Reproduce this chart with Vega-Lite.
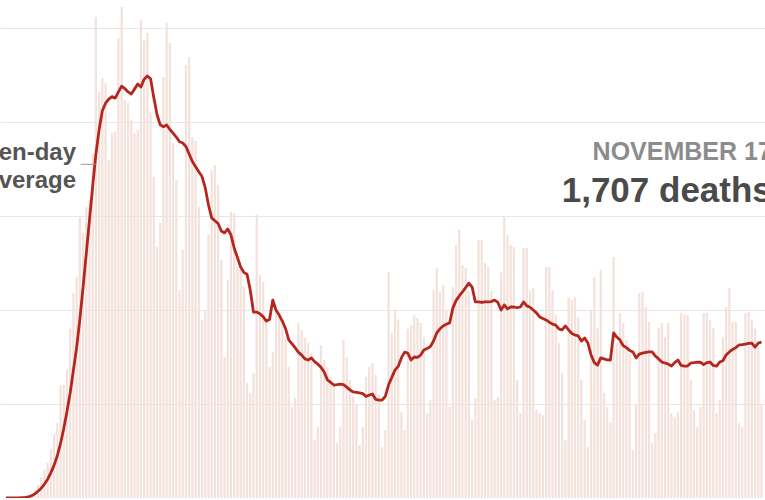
{
  "$schema": "https://vega.github.io/schema/vega-lite/v6.json",
  "width": 765,
  "height": 498,
  "padding": 0,
  "autosize": "none",
  "background": "white",
  "config": {"view": {"stroke": null}, "font": "Liberation Sans"},
  "datasets": {
    "daily": [
      {"date":"2020-03-03","deaths":0,"avg":0},{"date":"2020-03-04","deaths":0,"avg":0},{"date":"2020-03-05","deaths":1,"avg":0},{"date":"2020-03-06","deaths":1,"avg":1},{"date":"2020-03-07","deaths":2,"avg":1},{"date":"2020-03-08","deaths":3,"avg":2},{"date":"2020-03-09","deaths":5,"avg":3},{"date":"2020-03-10","deaths":10,"avg":6},{"date":"2020-03-11","deaths":20,"avg":12},{"date":"2020-03-12","deaths":40,"avg":22},
      {"date":"2020-03-13","deaths":70,"avg":36},{"date":"2020-03-14","deaths":110,"avg":52},{"date":"2020-03-15","deaths":150,"avg":74},{"date":"2020-03-16","deaths":186,"avg":100},{"date":"2020-03-17","deaths":260,"avg":135},{"date":"2020-03-18","deaths":340,"avg":175},{"date":"2020-03-19","deaths":399,"avg":225},{"date":"2020-03-20","deaths":600,"avg":290},{"date":"2020-03-21","deaths":601,"avg":370},{"date":"2020-03-22","deaths":681,"avg":460},
      {"date":"2020-03-23","deaths":900,"avg":560},{"date":"2020-03-24","deaths":1090,"avg":680},{"date":"2020-03-25","deaths":1175,"avg":800},{"date":"2020-03-26","deaths":1495,"avg":950},{"date":"2020-03-27","deaths":1410,"avg":1120},{"date":"2020-03-28","deaths":1548,"avg":1300},{"date":"2020-03-29","deaths":1585,"avg":1480},{"date":"2020-03-30","deaths":1830,"avg":1660},{"date":"2020-03-31","deaths":2558,"avg":1830},{"date":"2020-04-01","deaths":2160,"avg":1960},
      {"date":"2020-04-02","deaths":2234,"avg":2060},{"date":"2020-04-03","deaths":2206,"avg":2100},{"date":"2020-04-04","deaths":1798,"avg":2122},{"date":"2020-04-05","deaths":1941,"avg":2135},{"date":"2020-04-06","deaths":1950,"avg":2127},{"date":"2020-04-07","deaths":2447,"avg":2160},{"date":"2020-04-08","deaths":2612,"avg":2191},{"date":"2020-04-09","deaths":2117,"avg":2178},{"date":"2020-04-10","deaths":2101,"avg":2160},{"date":"2020-04-11","deaths":2011,"avg":2149},
      {"date":"2020-04-12","deaths":1941,"avg":2175},{"date":"2020-04-13","deaths":1957,"avg":2202},{"date":"2020-04-14","deaths":2542,"avg":2186},{"date":"2020-04-15","deaths":2436,"avg":2228},{"date":"2020-04-16","deaths":2473,"avg":2245},{"date":"2020-04-17","deaths":2050,"avg":2230},{"date":"2020-04-18","deaths":1707,"avg":2130},{"date":"2020-04-19","deaths":1335,"avg":2040},{"date":"2020-04-20","deaths":1463,"avg":1985},{"date":"2020-04-21","deaths":2239,"avg":1975},
      {"date":"2020-04-22","deaths":2527,"avg":1984},{"date":"2020-04-23","deaths":2420,"avg":1960},{"date":"2020-04-24","deaths":1888,"avg":1941},{"date":"2020-04-25","deaths":1691,"avg":1920},{"date":"2020-04-26","deaths":1106,"avg":1895},{"date":"2020-04-27","deaths":1319,"avg":1888},{"date":"2020-04-28","deaths":2303,"avg":1870},{"date":"2020-04-29","deaths":2346,"avg":1830},{"date":"2020-04-30","deaths":1920,"avg":1790},{"date":"2020-05-01","deaths":1900,"avg":1762},
      {"date":"2020-05-02","deaths":1548,"avg":1735},{"date":"2020-05-03","deaths":947,"avg":1710},{"date":"2020-05-04","deaths":1000,"avg":1650},{"date":"2020-05-05","deaths":1400,"avg":1560},{"date":"2020-05-06","deaths":1745,"avg":1490},{"date":"2020-05-07","deaths":1771,"avg":1475},{"date":"2020-05-08","deaths":1665,"avg":1460},{"date":"2020-05-09","deaths":1266,"avg":1420},{"date":"2020-05-10","deaths":750,"avg":1410},{"date":"2020-05-11","deaths":1160,"avg":1431},
      {"date":"2020-05-12","deaths":1521,"avg":1400},{"date":"2020-05-13","deaths":1516,"avg":1330},{"date":"2020-05-14","deaths":1229,"avg":1280},{"date":"2020-05-15","deaths":1213,"avg":1229},{"date":"2020-05-16","deaths":1122,"avg":1200},{"date":"2020-05-17","deaths":612,"avg":1190},{"date":"2020-05-18","deaths":558,"avg":1106},{"date":"2020-05-19","deaths":665,"avg":989},{"date":"2020-05-20","deaths":1505,"avg":989},{"date":"2020-05-21","deaths":1186,"avg":980},
      {"date":"2020-05-22","deaths":1149,"avg":965},{"date":"2020-05-23","deaths":947,"avg":941},{"date":"2020-05-24","deaths":697,"avg":950},{"date":"2020-05-25","deaths":777,"avg":1053},{"date":"2020-05-26","deaths":1000,"avg":1000},{"date":"2020-05-27","deaths":984,"avg":973},{"date":"2020-05-28","deaths":950,"avg":940},{"date":"2020-05-29","deaths":850,"avg":900},{"date":"2020-05-30","deaths":697,"avg":840},{"date":"2020-05-31","deaths":484,"avg":820},
      {"date":"2020-06-01","deaths":532,"avg":798},{"date":"2020-06-02","deaths":931,"avg":775},{"date":"2020-06-03","deaths":894,"avg":760},{"date":"2020-06-04","deaths":851,"avg":740},{"date":"2020-06-05","deaths":824,"avg":734},{"date":"2020-06-06","deaths":771,"avg":745},{"date":"2020-06-07","deaths":309,"avg":725},{"date":"2020-06-08","deaths":378,"avg":712},{"date":"2020-06-09","deaths":814,"avg":695},{"date":"2020-06-10","deaths":734,"avg":670},
      {"date":"2020-06-11","deaths":697,"avg":628},{"date":"2020-06-12","deaths":644,"avg":615},{"date":"2020-06-13","deaths":600,"avg":601},{"date":"2020-06-14","deaths":293,"avg":603},{"date":"2020-06-15","deaths":378,"avg":606},{"date":"2020-06-16","deaths":840,"avg":603},{"date":"2020-06-17","deaths":750,"avg":590},{"date":"2020-06-18","deaths":628,"avg":575},{"date":"2020-06-19","deaths":537,"avg":564},{"date":"2020-06-20","deaths":495,"avg":562},
      {"date":"2020-06-21","deaths":282,"avg":559},{"date":"2020-06-22","deaths":378,"avg":555},{"date":"2020-06-23","deaths":644,"avg":540},{"date":"2020-06-24","deaths":697,"avg":548},{"date":"2020-06-25","deaths":718,"avg":553},{"date":"2020-06-26","deaths":654,"avg":525},{"date":"2020-06-27","deaths":550,"avg":521},{"date":"2020-06-28","deaths":271,"avg":521},{"date":"2020-06-29","deaths":362,"avg":540},{"date":"2020-06-30","deaths":1202,"avg":601},
      {"date":"2020-07-01","deaths":878,"avg":640},{"date":"2020-07-02","deaths":1000,"avg":680},{"date":"2020-07-03","deaths":950,"avg":700},{"date":"2020-07-04","deaths":457,"avg":745},{"date":"2020-07-05","deaths":362,"avg":776},{"date":"2020-07-06","deaths":900,"avg":771},{"date":"2020-07-07","deaths":920,"avg":734},{"date":"2020-07-08","deaths":973,"avg":750},{"date":"2020-07-09","deaths":957,"avg":748},{"date":"2020-07-10","deaths":931,"avg":760},
      {"date":"2020-07-11","deaths":856,"avg":787},{"date":"2020-07-12","deaths":452,"avg":795},{"date":"2020-07-13","deaths":521,"avg":805},{"date":"2020-07-14","deaths":1106,"avg":835},{"date":"2020-07-15","deaths":1223,"avg":878},{"date":"2020-07-16","deaths":1096,"avg":900},{"date":"2020-07-17","deaths":1133,"avg":915},{"date":"2020-07-18","deaths":1000,"avg":925},{"date":"2020-07-19","deaths":484,"avg":931},{"date":"2020-07-20","deaths":1122,"avg":1010},
      {"date":"2020-07-21","deaths":1346,"avg":1050},{"date":"2020-07-22","deaths":1425,"avg":1075},{"date":"2020-07-23","deaths":1239,"avg":1096},{"date":"2020-07-24","deaths":1223,"avg":1120},{"date":"2020-07-25","deaths":1100,"avg":1143},{"date":"2020-07-26","deaths":415,"avg":1122},{"date":"2020-07-27","deaths":532,"avg":1043},{"date":"2020-07-28","deaths":1372,"avg":1043},{"date":"2020-07-29","deaths":1372,"avg":1040},{"date":"2020-07-30","deaths":1250,"avg":1043},
      {"date":"2020-07-31","deaths":1229,"avg":1043},{"date":"2020-08-01","deaths":1100,"avg":1045},{"date":"2020-08-02","deaths":521,"avg":1053},{"date":"2020-08-03","deaths":537,"avg":1040},{"date":"2020-08-04","deaths":1200,"avg":1000},{"date":"2020-08-05","deaths":1495,"avg":1027},{"date":"2020-08-06","deaths":1400,"avg":1006},{"date":"2020-08-07","deaths":1346,"avg":1016},{"date":"2020-08-08","deaths":1335,"avg":1016},{"date":"2020-08-09","deaths":628,"avg":1012},
      {"date":"2020-08-10","deaths":452,"avg":1016},{"date":"2020-08-11","deaths":1330,"avg":1043},{"date":"2020-08-12","deaths":1330,"avg":1022},{"date":"2020-08-13","deaths":1106,"avg":1015},{"date":"2020-08-14","deaths":1117,"avg":1000},{"date":"2020-08-15","deaths":468,"avg":985},{"date":"2020-08-16","deaths":452,"avg":963},{"date":"2020-08-17","deaths":441,"avg":955},{"date":"2020-08-18","deaths":1229,"avg":947},{"date":"2020-08-19","deaths":1229,"avg":935},
      {"date":"2020-08-20","deaths":1106,"avg":925},{"date":"2020-08-21","deaths":973,"avg":920},{"date":"2020-08-22","deaths":824,"avg":900},{"date":"2020-08-23","deaths":665,"avg":894},{"date":"2020-08-24","deaths":309,"avg":915},{"date":"2020-08-25","deaths":1064,"avg":894},{"date":"2020-08-26","deaths":1053,"avg":875},{"date":"2020-08-27","deaths":1069,"avg":867},{"date":"2020-08-28","deaths":963,"avg":862},{"date":"2020-08-29","deaths":628,"avg":835},
      {"date":"2020-08-30","deaths":415,"avg":851},{"date":"2020-08-31","deaths":271,"avg":824},{"date":"2020-09-01","deaths":1000,"avg":761},{"date":"2020-09-02","deaths":1176,"avg":720},{"date":"2020-09-03","deaths":904,"avg":707},{"date":"2020-09-04","deaths":1213,"avg":745},{"date":"2020-09-05","deaths":558,"avg":740},{"date":"2020-09-06","deaths":484,"avg":735},{"date":"2020-09-07","deaths":404,"avg":734},{"date":"2020-09-08","deaths":1282,"avg":878},
      {"date":"2020-09-09","deaths":824,"avg":856},{"date":"2020-09-10","deaths":984,"avg":840},{"date":"2020-09-11","deaths":931,"avg":810},{"date":"2020-09-12","deaths":840,"avg":800},{"date":"2020-09-13","deaths":771,"avg":785},{"date":"2020-09-14","deaths":255,"avg":777},{"date":"2020-09-15","deaths":500,"avg":745},{"date":"2020-09-16","deaths":1090,"avg":765},{"date":"2020-09-17","deaths":1096,"avg":771},{"date":"2020-09-18","deaths":1016,"avg":775},
      {"date":"2020-09-19","deaths":936,"avg":777},{"date":"2020-09-20","deaths":293,"avg":777},{"date":"2020-09-21","deaths":346,"avg":755},{"date":"2020-09-22","deaths":904,"avg":740},{"date":"2020-09-23","deaths":931,"avg":723},{"date":"2020-09-24","deaths":856,"avg":718},{"date":"2020-09-25","deaths":931,"avg":712},{"date":"2020-09-26","deaths":452,"avg":702},{"date":"2020-09-27","deaths":430,"avg":720},{"date":"2020-09-28","deaths":457,"avg":734},
      {"date":"2020-09-29","deaths":984,"avg":705},{"date":"2020-09-30","deaths":973,"avg":702},{"date":"2020-10-01","deaths":973,"avg":702},{"date":"2020-10-02","deaths":628,"avg":718},{"date":"2020-10-03","deaths":468,"avg":720},{"date":"2020-10-04","deaths":378,"avg":723},{"date":"2020-10-05","deaths":484,"avg":722},{"date":"2020-10-06","deaths":984,"avg":710},{"date":"2020-10-07","deaths":984,"avg":720},{"date":"2020-10-08","deaths":947,"avg":723},
      {"date":"2020-10-09","deaths":904,"avg":705},{"date":"2020-10-10","deaths":452,"avg":702},{"date":"2020-10-11","deaths":521,"avg":723},{"date":"2020-10-12","deaths":856,"avg":730},{"date":"2020-10-13","deaths":1016,"avg":761},{"date":"2020-10-14","deaths":1117,"avg":777},{"date":"2020-10-15","deaths":936,"avg":790},{"date":"2020-10-16","deaths":936,"avg":800},{"date":"2020-10-17","deaths":399,"avg":814},{"date":"2020-10-18","deaths":378,"avg":816},
      {"date":"2020-10-19","deaths":984,"avg":819},{"date":"2020-10-20","deaths":989,"avg":822},{"date":"2020-10-21","deaths":950,"avg":824},{"date":"2020-10-22","deaths":900,"avg":803},{"date":"2020-10-23","deaths":800,"avg":824},{"date":"2020-10-24","deaths":500,"avg":830}
    ]
  },
  "encoding": {
    "x": {
      "field": "date",
      "type": "temporal",
      "scale": {
        "domain": [
          {"year": 2020, "month": 3, "date": 2, "hours": 17, "minutes": 22, "utc": true},
          {"year": 2020, "month": 10, "date": 23, "hours": 12, "minutes": 45, "utc": true}
        ]
      },
      "axis": null
    }
  },
  "layer": [
    {
      "data": {"name": "daily"},
      "mark": {"type": "bar", "width": 2.2, "color": "#f3e1db"},
      "encoding": {
        "y": {
          "field": "deaths",
          "type": "quantitative",
          "scale": {"domain": [0, 2649], "nice": false, "zero": true},
          "axis": {
            "values": [0, 500, 1000, 1500, 2000, 2500],
            "labels": false,
            "ticks": false,
            "domain": false,
            "title": null,
            "grid": true,
            "gridColor": "#e6e6e6",
            "gridWidth": 1
          }
        }
      }
    },
    {
      "data": {"name": "daily"},
      "mark": {"type": "line", "color": "#b5261e", "strokeWidth": 2.8, "strokeJoin": "round"},
      "encoding": {
        "y": {"field": "avg", "type": "quantitative"}
      }
    },
    {
      "data": {"values": [{"date": "2020-03-26T06:30:00Z", "date2": "2020-03-30T21:00:00Z", "value": 1775}]},
      "mark": {"type": "rule", "color": "#999999", "strokeWidth": 1},
      "encoding": {
        "x2": {"field": "date2"},
        "y": {"field": "value", "type": "quantitative"}
      }
    },
    {
      "data": {"values": [
        {"date": "2020-03-24T19:40:00Z", "value": 1798, "label": "Seven-day"},
        {"date": "2020-03-24T19:40:00Z", "value": 1647, "label": "average"}
      ]},
      "mark": {"type": "text", "align": "right", "baseline": "alphabetic", "fontSize": 24, "fontWeight": "bold", "color": "#555555", "font": "Liberation Sans"},
      "encoding": {
        "y": {"field": "value", "type": "quantitative"},
        "text": {"field": "label"}
      }
    },
    {
      "data": {"values": [{"date": "2020-10-27T05:00:00Z", "value": 1798, "label": "NOVEMBER 17"}]},
      "mark": {"type": "text", "align": "right", "baseline": "alphabetic", "fontSize": 25, "fontWeight": "bold", "color": "#8c8c8c", "font": "Liberation Sans"},
      "encoding": {
        "y": {"field": "value", "type": "quantitative"},
        "text": {"field": "label"}
      }
    },
    {
      "data": {"values": [{"date": "2020-10-27T05:00:00Z", "value": 1574, "label": "1,707 deaths"}]},
      "mark": {"type": "text", "align": "right", "baseline": "alphabetic", "fontSize": 35, "fontWeight": "bold", "color": "#4a4a4a", "font": "Liberation Sans"},
      "encoding": {
        "y": {"field": "value", "type": "quantitative"},
        "text": {"field": "label"}
      }
    }
  ]
}
